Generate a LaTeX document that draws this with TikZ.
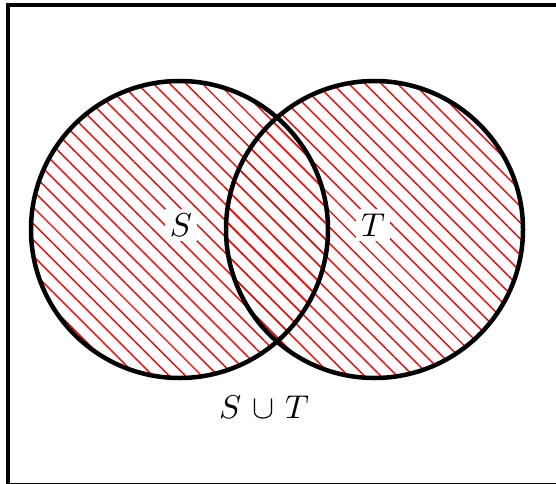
\documentclass[tikz,border=0pt]{standalone}
\usepackage{graphicx}
\usetikzlibrary{patterns.meta}
\newcommand{\bigtxt}[1]{\scalebox{3.3}{#1}}
\begin{document}
\begin{tikzpicture}[x=1pt,y=1pt,
  setcircle/.style={line width=4.5pt, draw=black},
  hatch/.style={pattern={Lines[angle=-45,distance=11.5pt,line width=1.4pt]}, pattern color=red},
  lbl/.style={fill=white, inner sep=5pt}]
\useasboundingbox (0,0) rectangle (556,483);
\clip (0,0) rectangle (556,483);
\draw[line width=4pt] (7.5,478) rectangle (600,-1.5);
\fill[hatch] (179.5,253.5) circle[radius=148.5];
\fill[hatch] (374.5,253.5) circle[radius=148.5];
\node[draw=none, circle, minimum size=297pt] (s) at (179.5,253.5) {};
\node[draw=none, circle, minimum size=297pt] (t) at (374.5,253.5) {};
\draw[setcircle] (s.center) circle[radius=148.5];
\draw[setcircle] (t.center) circle[radius=148.5];
\node[lbl] (sl) at (181,258) {\bigtxt{$S$}};
\node[lbl] (tl) at (373,258) {\bigtxt{$T$}};
\node (u) at (264,76) {\bigtxt{$S\mskip2mu\cup\mskip2mu T$}};
\end{tikzpicture}
\end{document}
